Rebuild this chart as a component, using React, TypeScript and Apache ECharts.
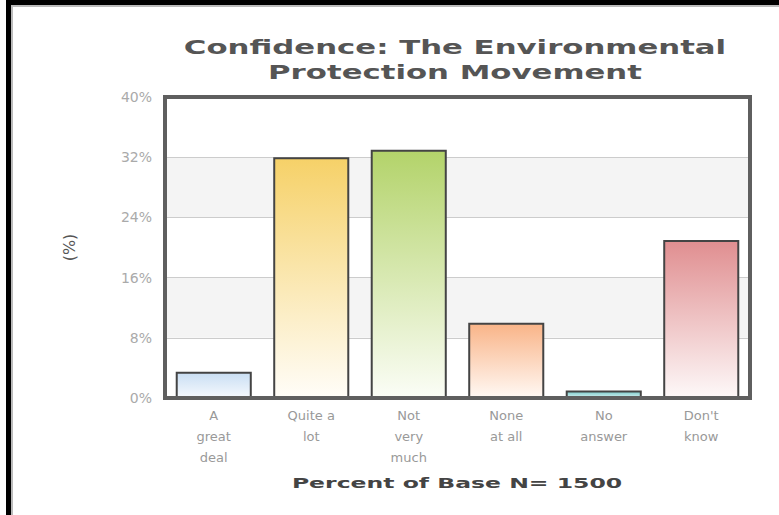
import React, { useEffect, useRef } from "react";
import * as echarts from "echarts";

const categories = ["A\ngreat\ndeal", "Quite a\nlot", "Not\nvery\nmuch", "None\nat all", "No\nanswer", "Don't\nknow"];
const values = [3.5, 32, 33, 10, 1, 21];
const topColors = ["#c9def3", "#f6d168", "#b3d36a", "#f9b488", "#7ccccc", "#e08e90"];
const bottomColors = ["#f4f8fd", "#fffdf8", "#fbfdf6", "#fff8f3", "#c9ecec", "#fdf8f8"];
const yTicks = { min: 0, max: 40, interval: 8 };
const titleText = "Confidence: The Environmental\nProtection Movement";
const xName = "Percent of Base N= 1500";
const yName = "(%)";

export default function App() {
  const ref = useRef<HTMLDivElement>(null);
  useEffect(() => {
    if (!ref.current) return;
    const chart = echarts.init(ref.current, null, { renderer: "svg" });
    const font = "DejaVu Sans, Verdana, sans-serif";
    chart.setOption({
      animation: false,
      backgroundColor: "#ffffff",
      graphic: [
        { type: "rect", shape: { x: 6, y: 0, width: 773, height: 5 }, style: { fill: "#000" } },
        { type: "rect", shape: { x: 11, y: 5, width: 768, height: 2 }, style: { fill: "#bbb" } },
        { type: "rect", shape: { x: 6, y: 0, width: 5, height: 515 }, style: { fill: "#000" } },
        { type: "rect", shape: { x: 11, y: 5, width: 2, height: 510 }, style: { fill: "#bbb" } },
        {
          type: "text",
          x: 455,
          y: 35,
          scaleX: 1.62,
          style: {
            text: titleText,
            align: "center",
            verticalAlign: "top",
            font: "bold 19px " + font,
            lineHeight: 25,
            fill: "#555555",
          },
        },
        {
          type: "text",
          x: 457,
          y: 483,
          scaleX: 1.68,
          style: {
            text: xName,
            align: "center",
            verticalAlign: "middle",
            font: "bold 14px " + font,
            fill: "#444444",
          },
        },
      ],
      grid: {
        left: 165,
        right: 29,
        top: 97,
        bottom: 117,
        show: true,
        borderColor: "#5f5f5f",
        borderWidth: 4,
        backgroundColor: "transparent",
        z: 5,
      },
      xAxis: {
        type: "category",
        data: categories,
        axisLine: { show: false },
        axisTick: { show: false },
        axisLabel: { fontFamily: font, fontSize: 13, color: "#999999", lineHeight: 21, margin: 7, interval: 0 },
      },
      yAxis: {
        type: "value",
        min: yTicks.min,
        max: yTicks.max,
        interval: yTicks.interval,
        name: yName,
        nameLocation: "middle",
        nameRotate: 90,
        nameGap: 88,
        nameTextStyle: { fontFamily: font, fontSize: 16, color: "#555555" },
        axisLine: { show: false },
        axisTick: { show: false },
        axisLabel: { fontFamily: font, fontSize: 14, color: "#aaaaaa", margin: 13, formatter: "{value}%" },
        splitLine: { show: true, lineStyle: { color: "#cccccc", width: 1 } },
        splitArea: { show: true, areaStyle: { color: ["#ffffff", "#f4f4f4"] } },
      },
      series: [
        {
          type: "bar",
          barCategoryGap: "22%",
          data: values.map((v, i) => ({
            value: v,
            itemStyle: {
              color: new echarts.graphic.LinearGradient(0, 0, 0, 1, [
                { offset: 0, color: topColors[i] },
                { offset: 1, color: bottomColors[i] },
              ]),
              borderColor: "#444444",
              borderWidth: 2,
            },
          })),
        },
      ],
    });
    return () => chart.dispose();
  }, []);
  return <div ref={ref} style={{ position: "fixed", left: 0, top: 0, width: 779, height: 515 }} />;
}
